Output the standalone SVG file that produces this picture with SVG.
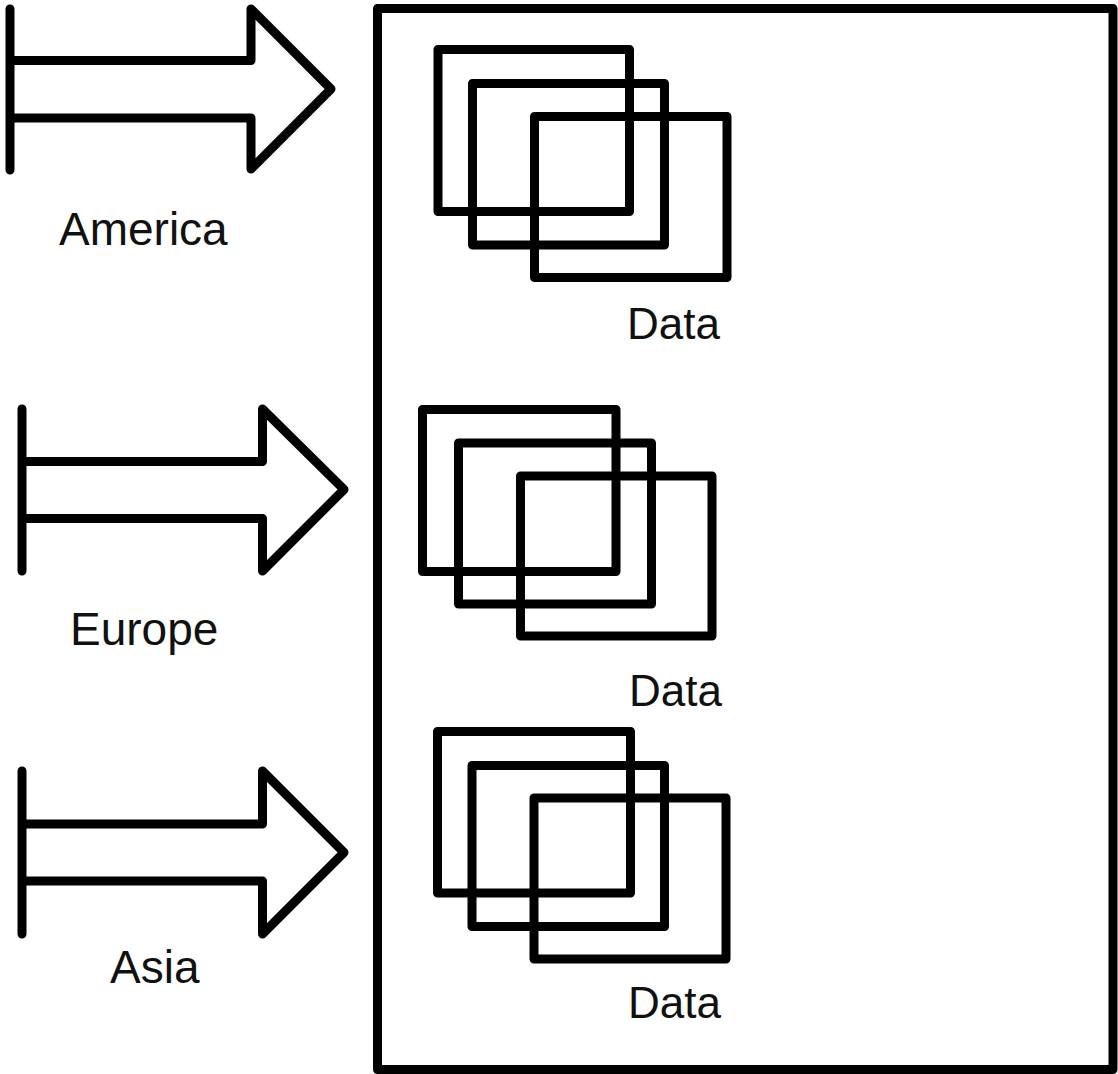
<svg xmlns="http://www.w3.org/2000/svg" width="1118" height="1074" viewBox="0 0 1118 1074">
<style>
.s{fill:none;stroke:#000;stroke-width:9;stroke-linejoin:round;stroke-linecap:round}
.t{font-family:"Liberation Sans",Arial,sans-serif;font-size:44px;fill:#111}
.r{font-size:46px}
</style>
<rect width="1118" height="1074" fill="#fff"/>
<g id="container">
<rect class="s" x="377.5" y="8.5" width="735.5" height="1061"/>
</g>
<g id="connectors">
<g id="arrow-america">
<path class="s" d="M10,9 V170 M10,60.5 H251 V9 L331,89 L251,169 V118 H10"/>
</g>
<g id="arrow-europe">
<path class="s" d="M22,409 V571 M22,461.5 H262.5 V409 L344,489.5 L262.5,571 V518.5 H22"/>
</g>
<g id="arrow-asia">
<path class="s" d="M22,771 V934 M22,824 H262.5 V771 L344,852.5 L262.5,934 V881 H22"/>
</g>
</g>
<g id="label-america"><text class="t r" x="59" y="245">America</text></g>
<g id="label-europe"><text class="t r" x="70" y="645">Europe</text></g>
<g id="label-asia"><text class="t r" x="110" y="983">Asia</text></g>
<g id="data-1">
<rect class="s" x="438" y="49.5" width="191.5" height="162"/>
<rect class="s" x="472.5" y="83.5" width="192" height="161.5"/>
<rect class="s" x="534.5" y="116.5" width="192.5" height="161"/>
<text class="t" x="627" y="339">Data</text>
</g>
<g id="data-2">
<rect class="s" x="422.5" y="409.5" width="193.5" height="162"/>
<rect class="s" x="458.5" y="443" width="193" height="161"/>
<rect class="s" x="520.5" y="476" width="191.5" height="160"/>
<text class="t" x="629" y="706">Data</text>
</g>
<g id="data-3">
<rect class="s" x="437.5" y="731.5" width="193" height="161.5"/>
<rect class="s" x="472" y="765.5" width="192.5" height="161"/>
<rect class="s" x="534" y="798" width="192" height="161"/>
<text class="t" x="628" y="1018">Data</text>
</g>
</svg>
